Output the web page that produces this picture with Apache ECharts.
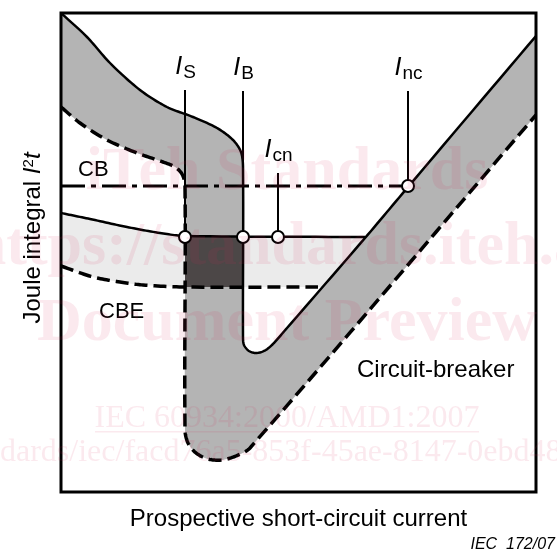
<!DOCTYPE html>
<html><head><meta charset="utf-8">
<script src="https://cdn.jsdelivr.net/npm/echarts@6/dist/echarts.min.js"></script>
<style>html,body{margin:0;padding:0;background:#fff}#c{width:557px;height:553px}</style>
</head><body><div id="c"></div>
<script>
// Schematic coordinates: x = prospective current (0..475), y = Joule integral (0..479)
const xRange = [0, 475];
const yRange = [0, 479];

// CB characteristic band: upper (solid) and lower (dashed) limits
const cbUpperCurve = [[0,479],[26,455],[49,429],[79,402],[106,385],[132,375],[156,364],[172,352],[180,340],[182,325],[182,155],[183,147],[188,141],[195,139],[203,141],[211,147],[226,164],[304,254],[347,305],[475,456]];
const cbLowerCurve = [[0,385],[19,369],[46,352],[76,339],[102,330],[114,325],[121,318],[124,307],[124,62],[127,49],[135,39],[147,33],[161,32],[175,36],[189,44],[475,377]];
// CBE characteristic band: upper (solid) and lower (dashed) limits
const cbeUpperCurve = [[0,279],[29,273],[66,265],[99,259],[124,256],[304,255]];
const cbeLowerCurve = [[0,226],[32,215],[59,210],[82,207],[124,205],[257,205]];
const cbeBandEnd = [[262,205]];
// selectivity zone (between IS and IB)
const selectiveZone = [[124,255],[182,255],[182,205],[124,205]];
// Inc level line
const incLevel = [[0,306],[347,306]];
// characteristic currents
const currentNames = ['S','B','cn','nc'];
const currentX = [124,182,217,347];
const currentLevel = [255,255,255,306];
const currentTop = [402,401,319,401];

const SANS = '"Liberation Sans", Arial, sans-serif';
const SERIF = '"Liberation Serif", "Times New Roman", serif';
const mctx = document.createElement('canvas').getContext('2d');
function textWidth(t, font) { mctx.font = font; return mctx.measureText(t).width; }

const chart = echarts.init(document.getElementById('c'), null, {renderer: 'canvas'});

// smooth rendering of pixel points (drawing only); tangent length bounded by segment length
function unit(a, b) {
  const dx = b[0] - a[0], dy = b[1] - a[1], l = Math.hypot(dx, dy) || 1;
  return [dx / l, dy / l];
}
function smoothPixels(pts) {
  if (pts.length < 3) return pts.slice();
  const out = [pts[0]];
  const f = 0.3, steps = 14;
  for (let i = 0; i < pts.length - 1; i++) {
    const p0 = pts[Math.max(0, i - 1)], p1 = pts[i], p2 = pts[i + 1], p3 = pts[Math.min(pts.length - 1, i + 2)];
    const L = Math.hypot(p2[0] - p1[0], p2[1] - p1[1]);
    const d1 = unit(p0, p2), d2 = unit(p1, p3);
    const c1 = [p1[0] + d1[0] * L * f, p1[1] + d1[1] * L * f];
    const c2 = [p2[0] - d2[0] * L * f, p2[1] - d2[1] * L * f];
    for (let s = 1; s <= steps; s++) {
      const t = s / steps, u = 1 - t;
      out.push([
        u*u*u*p1[0] + 3*u*u*t*c1[0] + 3*u*t*t*c2[0] + t*t*t*p2[0],
        u*u*u*p1[1] + 3*u*u*t*c1[1] + 3*u*t*t*c2[1] + t*t*t*p2[1]
      ]);
    }
  }
  return out;
}

function curveSeries(kind, parts, style, z) {
  return {
    type: 'custom', coordinateSystem: 'cartesian2d', z: z, silent: true, clip: true,
    data: [[0, 0]],
    renderItem: function (params, api) {
      let pts = [];
      parts.forEach(function (part) { pts = pts.concat(smoothPixels(part.map(p => api.coord(p)))); });
      return { type: kind, shape: { points: pts }, style: style };
    }
  };
}

const dashed = [13, 6];
const series = [
  curveSeries('polygon', [cbeUpperCurve, cbeBandEnd, cbeLowerCurve.slice().reverse()], {fill: '#ebebeb'}, 1),
  curveSeries('polygon', [cbUpperCurve, cbLowerCurve.slice().reverse()], {fill: '#b4b4b4'}, 2),
  curveSeries('polygon', [selectiveZone.slice(0, 2), selectiveZone.slice(2)], {fill: '#4c4747'}, 3),
  curveSeries('polyline', [cbUpperCurve], {stroke: '#000', lineWidth: 2.5, fill: null}, 5),
  curveSeries('polyline', [cbLowerCurve], {stroke: '#000', lineWidth: 3.5, fill: null, lineDash: dashed}, 5),
  curveSeries('polyline', [cbeUpperCurve], {stroke: '#000', lineWidth: 2.5, fill: null}, 5),
  curveSeries('polyline', [cbeLowerCurve], {stroke: '#000', lineWidth: 3.5, fill: null, lineDash: dashed}, 5),
  curveSeries('polyline', [incLevel], {stroke: '#000', lineWidth: 3, fill: null, lineDash: [24, 6, 5, 6]}, 5),
  {
    type: 'custom', coordinateSystem: 'cartesian2d', z: 6, silent: true,
    data: currentX.map((x, i) => [x, currentLevel[i], currentTop[i]]),
    renderItem: function (params, api) {
      const p0 = api.coord([api.value(0), api.value(1)]);
      const p1 = api.coord([api.value(0), api.value(2)]);
      const i = params.dataIndex;
      const sub = currentNames[i];
      const fI = 'italic 25px ' + SANS, fS = '19px ' + SANS;
      const wI = textWidth('I', fI), wS = textWidth(sub, fS);
      const left = p1[0] - (wI + wS) / 2;
      return { type: 'group', children: [
        { type: 'line', shape: {x1: p0[0], y1: p0[1], x2: p1[0], y2: p1[1]}, style: {stroke: '#000', lineWidth: 2} },
        { type: 'text', x: left, y: p1[1] - 15 - 0.31 * 25,
          style: {text: 'I', font: fI, fill: '#000', textAlign: 'left', align: 'left', textVerticalAlign: 'middle', verticalAlign: 'middle'} },
        { type: 'text', x: left + wI + 1, y: p1[1] - 11 - 0.31 * 19,
          style: {text: sub, font: fS, fill: '#000', textAlign: 'left', align: 'left', textVerticalAlign: 'middle', verticalAlign: 'middle'} }
      ]};
    }
  },
  {
    type: 'scatter', z: 8, silent: true, symbol: 'circle', symbolSize: 12,
    data: currentX.map((x, i) => [x, currentLevel[i]]),
    itemStyle: {color: '#fff', borderColor: '#000', borderWidth: 2, opacity: 1}
  }
];

function txt(text, x, baseline, size, opts) {
  opts = opts || {};
  const fam = opts.family || SANS;
  const font = (opts.italic ? 'italic ' : '') + (opts.bold ? 'bold ' : '') + size + 'px ' + fam;
  return {
    type: 'text', x: x, y: baseline - 0.31 * size, z: opts.z || 50, silent: true,
    style: {text: text, font: font, fill: opts.fill || '#000', textAlign: opts.align || 'left', align: opts.align || 'left',
      textVerticalAlign: 'middle', verticalAlign: 'middle'}
  };
}

const WM = 'rgba(215,40,90,0.1)';
const graphic = [
  txt('CB', 78, 177, 22),
  txt('CBE', 99, 319, 22),
  txt('Circuit-breaker', 357, 378, 24),
  txt('Prospective short-circuit current', 298.5, 527, 24, {align: 'center'}),
  txt('IEC  172/07', 555, 550, 16, {align: 'right', italic: true}),
  {
    type: 'text', x: 33, y: 238, rotation: Math.PI / 2, silent: true, z: 50,
    style: {
      text: '{n|Joule integral }{i|I}{p|2}{i|t}', align: 'center', textAlign: 'center', verticalAlign: 'middle', textVerticalAlign: 'middle',
      rich: {
        n: {fontSize: 24, fontFamily: SANS, fill: '#000', color: '#000'},
        i: {fontSize: 24, fontFamily: SANS, fontStyle: 'italic', fill: '#000', color: '#000'},
        p: {fontSize: 15, fontFamily: SANS, fill: '#000', color: '#000', verticalAlign: 'top'}
      }
    }
  },
  txt('iTeh Standards', 287, 192, 62, {align: 'center', bold: true, family: SERIF, fill: WM, z: 100}),
  txt('https://standards.iteh.ai', 287, 267, 62, {align: 'center', bold: true, family: SERIF, fill: WM, z: 100}),
  txt('Document Preview', 287, 343, 62, {align: 'center', bold: true, family: SERIF, fill: WM, z: 100}),
  txt('IEC 60934:2000/AMD1:2007', 287, 429, 32, {align: 'center', family: SERIF, fill: WM, z: 100}),
  {type: 'rect', shape: {x: 287 - 192, y: 431, width: 384, height: 1.5}, style: {fill: WM}, z: 100, silent: true},
  txt('dards/iec/facd76a5-853f-45ae-8147-0ebd48', 0, 463, 32, {family: SERIF, fill: WM, z: 100})
];

chart.setOption({
  animation: false,
  backgroundColor: '#fff',
  grid: {left: 61, top: 13, width: 475, height: 479, show: true, borderColor: '#000', borderWidth: 3, backgroundColor: 'transparent', z: 10},
  xAxis: {type: 'value', min: xRange[0], max: xRange[1], show: false},
  yAxis: {type: 'value', min: yRange[0], max: yRange[1], show: false},
  series: series,
  graphic: graphic
});
</script></body></html>
